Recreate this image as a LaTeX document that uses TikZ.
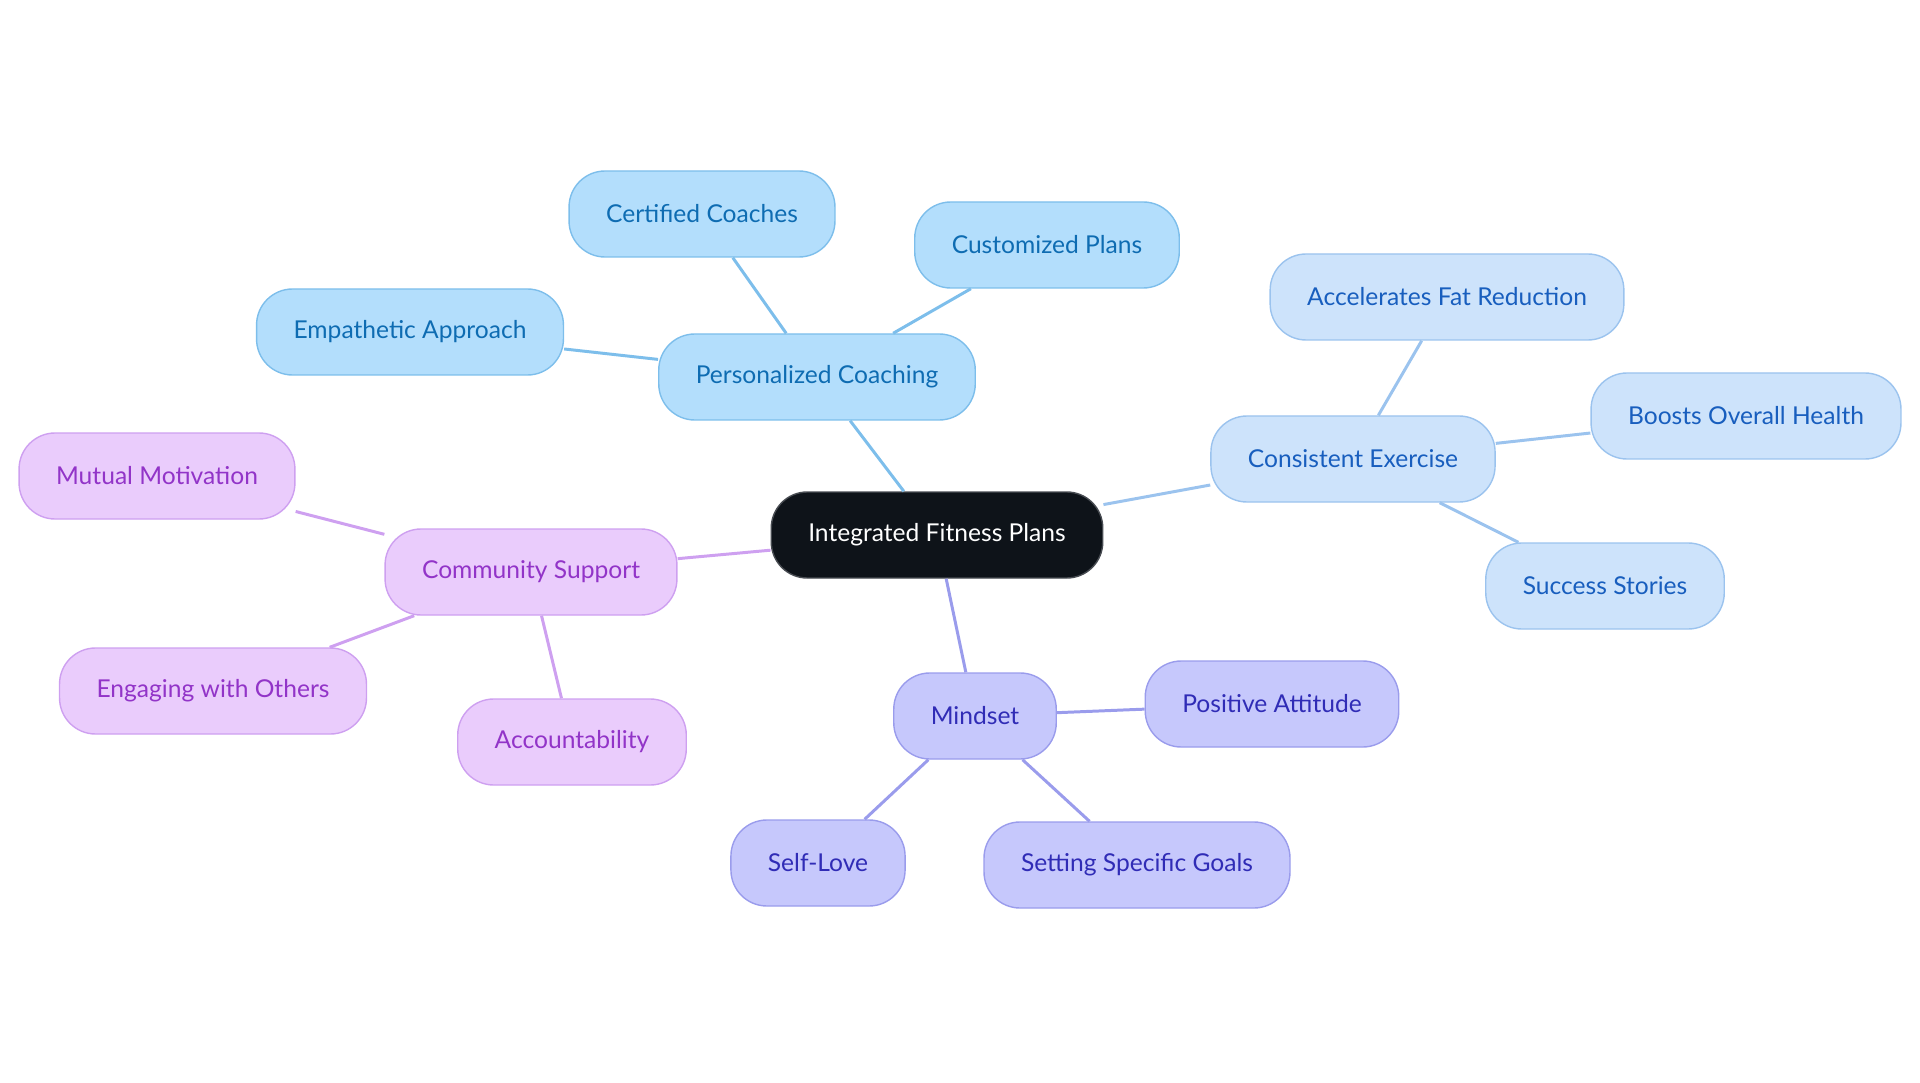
\documentclass[tikz,border=0pt]{standalone}
\usepackage{fontspec}
\setmainfont{Lato}
\definecolor{RootDark}{RGB}{14, 19, 25}
\definecolor{RootEdge}{RGB}{72, 76, 82}
\definecolor{CoachFill}{RGB}{179, 222, 252}
\definecolor{CoachLine}{RGB}{125, 190, 235}
\definecolor{CoachText}{RGB}{14, 108, 178}
\definecolor{ExerFill}{RGB}{205, 227, 251}
\definecolor{ExerLine}{RGB}{155, 195, 238}
\definecolor{ExerText}{RGB}{24, 94, 190}
\definecolor{CommFill}{RGB}{234, 204, 252}
\definecolor{CommLine}{RGB}{206, 160, 240}
\definecolor{CommText}{RGB}{146, 52, 200}
\definecolor{MindFill}{RGB}{198, 200, 252}
\definecolor{MindLine}{RGB}{154, 156, 236}
\definecolor{MindText}{RGB}{48, 44, 182}
\usepackage{tikz}
\usetikzlibrary{positioning}

\begin{document}
\begin{tikzpicture}[
        node distance=1.0cm, on grid,
        pill/.style={rectangle, rounded corners=0.72cm, minimum height=1.72cm, inner xsep=0.74cm, line width=0.8pt, font=\fontsize{14pt}{16pt}\selectfont},
        rootnode/.style={pill, draw=RootEdge, fill=RootDark, text=white},
        coach/.style={pill, draw=CoachLine, fill=CoachFill, text=CoachText},
        exer/.style={pill, draw=ExerLine, fill=ExerFill, text=ExerText},
        comm/.style={pill, draw=CommLine, fill=CommFill, text=CommText},
        mind/.style={pill, draw=MindLine, fill=MindFill, text=MindText},
        coachline/.style={draw, CoachLine, line width=1.7pt},
        exerline/.style={draw, ExerLine, line width=1.7pt},
        commline/.style={draw, CommLine, line width=1.7pt},
        mindline/.style={draw, MindLine, line width=1.7pt}
    ]
        \useasboundingbox (0,0) rectangle (38.4,-21.66);

        \node [rootnode] (fit) at (18.74,-10.7) {Integrated Fitness Plans};

        \node [coach, above left=3.16cm and 2.4cm of fit] (coaching) {Personalized Coaching};
        \node [coach, above left=3.26cm and 2.3cm of coaching] (certified) {Certified Coaches};
        \node [coach, above right=2.64cm and 4.6cm of coaching] (customized) {Customized Plans};
        \node [coach, above left=0.9cm and 8.14cm of coaching] (empathy) {Empathetic Approach};

        \node [exer, above right=1.52cm and 8.32cm of fit] (exercise) {Consistent Exercise};
        \node [exer, above right=3.24cm and 1.88cm of exercise] (fatloss) {Accelerates Fat Reduction};
        \node [exer, above right=0.86cm and 7.86cm of exercise] (health) {Boosts Overall Health};
        \node [exer, below right=2.54cm and 5.04cm of exercise] (stories) {Success Stories};

        \node [comm, below left=0.74cm and 8.12cm of fit] (community) {Community Support};
        \node [comm, above left=1.92cm and 7.48cm of community] (motivation) {Mutual Motivation};
        \node [comm, below left=2.38cm and 6.36cm of community] (engaging) {Engaging with Others};
        \node [comm, below right=3.4cm and 0.82cm of community] (account) {Accountability};

        \node [mind, below right=3.62cm and 0.76cm of fit] (mindset) {Mindset};
        \node [mind, above right=0.24cm and 5.94cm of mindset] (attitude) {Positive Attitude};
        \node [mind, below left=2.94cm and 3.14cm of mindset] (selflove) {Self-Love};
        \node [mind, below right=2.98cm and 3.24cm of mindset] (goals) {Setting Specific Goals};

        \path [coachline] (fit) -- (coaching);
        \path [coachline] (coaching) -- (certified);
        \path [coachline] (coaching) -- (customized);
        \path [coachline] (coaching) -- (empathy);
        \path [exerline] (fit) -- (exercise);
        \path [exerline] (exercise) -- (fatloss);
        \path [exerline] (exercise) -- (health);
        \path [exerline] (exercise) -- (stories);
        \path [commline] (fit) -- (community);
        \path [commline] (community) -- (motivation);
        \path [commline] (community) -- (engaging);
        \path [commline] (community) -- (account);
        \path [mindline] (fit) -- (mindset);
        \path [mindline] (mindset) -- (attitude);
        \path [mindline] (mindset) -- (selflove);
        \path [mindline] (mindset) -- (goals);
    \end{tikzpicture}
\end{document}
